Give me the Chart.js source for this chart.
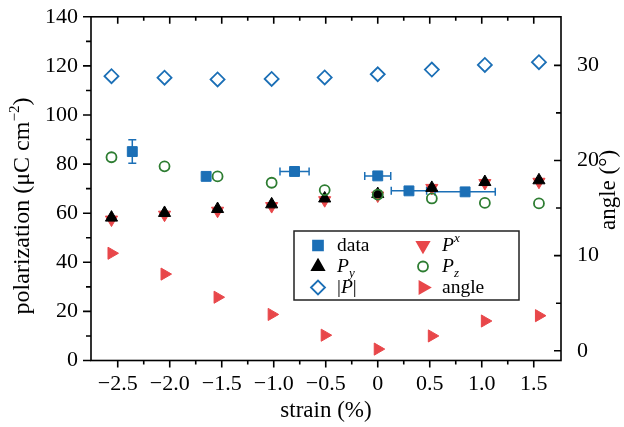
<!DOCTYPE html>
<html>
<head>
<meta charset="utf-8">
<script src="https://cdn.jsdelivr.net/npm/chart.js@4.4.0/dist/chart.umd.min.js"></script>
<style>
  body { margin: 0; background: #fff; }
  #wrap { width: 624px; height: 427px; }
</style>
</head>
<body>
<div id="wrap"><canvas id="polChart"></canvas></div>
<script>
// calculated points (strain in %)
const strains = [-2.56, -2.05, -1.54, -1.02, -0.51, 0, 0.52, 1.03, 1.55];
const pTotal = [115.8, 115.2, 114.5, 114.7, 115.3, 116.6, 118.5, 120.4, 121.5];
const pX = [57.4, 59.4, 61.0, 62.9, 65.3, 67.2, 70.3, 72.3, 72.8];
const pY = [58.2, 60.1, 61.7, 63.6, 66.0, 67.8, 70.3, 72.7, 73.4];
const pZ = [82.8, 79.1, 75.0, 72.4, 69.4, 67.6, 66.0, 64.2, 64.0];
const angle = [10.25, 8.06, 5.63, 3.82, 1.64, 0.18, 1.56, 3.13, 3.69];

// measured data with error bars
const dataStrain = [-2.36, -1.65, -0.80, 0, 0.30, 0.84];
const dataPol = [85.1, 75.0, 77.0, 75.2, 69.1, 68.7];
const dataXErr = [0, 0, 0.14, 0.125, 0.17, 0.29];
const dataYErr = [4.8, 0, 0, 0, 0, 0];

// tick values and labels
const xTickValues = [-2.5, -2.0, -1.5, -1.0, -0.5, 0, 0.5, 1.0, 1.5];
const xTickLabels = ['\u22122.5', '\u22122.0', '\u22121.5', '\u22121.0', '\u22120.5', '0', '0.5', '1.0', '1.5'];
const polTicks = [0, 20, 40, 60, 80, 100, 120, 140];
const angleTicks = [0, 10, 20, 30];

const BLUE = '#1b6fb6';
const RED = '#e8474a';
const GREEN = '#2e7d32';
const SERIF = '"Liberation Serif", "Times New Roman", serif';

function pts(xs, ys) {
    return xs.map((x, i) => ({ x: x, y: ys[i] }));
}

function fontOf(size, italic) {
    return (italic ? 'italic ' : '') + size + 'px ' + SERIF;
}

// draws a run of text pieces (for sub/superscripts)
function drawRich(ctx, parts, x, y, align) {
    let total = 0;
    parts.forEach(p => {
        ctx.font = fontOf(p.size, p.italic);
        p.w = ctx.measureText(p.t).width;
        total += p.w + (p.gap || 0);
    });
    let cx = align === 'center' ? x - total / 2 : x;
    parts.forEach(p => {
        ctx.font = fontOf(p.size, p.italic);
        ctx.fillText(p.t, cx, y + (p.dy || 0));
        cx += p.w + (p.gap || 0);
    });
}

// error bars for the measured points
const errorBars = {
    id: 'errorBars',
    beforeDatasetsDraw(chart) {
        const { ctx, scales } = chart;
        const x = scales.x, y = scales.y;
        ctx.save();
        ctx.strokeStyle = BLUE;
        ctx.lineWidth = 1.5;
        dataStrain.forEach((s, i) => {
            const px = x.getPixelForValue(s);
            const py = y.getPixelForValue(dataPol[i]);
            ctx.beginPath();
            if (dataXErr[i]) {
                const l = x.getPixelForValue(s - dataXErr[i]);
                const r = x.getPixelForValue(s + dataXErr[i]);
                ctx.moveTo(l, py); ctx.lineTo(r, py);
                ctx.moveTo(l, py - 4); ctx.lineTo(l, py + 4);
                ctx.moveTo(r, py - 4); ctx.lineTo(r, py + 4);
            }
            if (dataYErr[i]) {
                const t = y.getPixelForValue(dataPol[i] + dataYErr[i]);
                const b = y.getPixelForValue(dataPol[i] - dataYErr[i]);
                ctx.moveTo(px, t); ctx.lineTo(px, b);
                ctx.moveTo(px - 4, t); ctx.lineTo(px + 4, t);
                ctx.moveTo(px - 4, b); ctx.lineTo(px + 4, b);
            }
            ctx.stroke();
        });
        ctx.restore();
    }
};

// box frame with major and minor tick marks
const frameTicks = {
    id: 'frameTicks',
    afterDatasetsDraw(chart) {
        const { ctx, chartArea: a, scales } = chart;
        ctx.save();
        ctx.strokeStyle = '#000';
        ctx.lineWidth = 1.6;
        ctx.strokeRect(a.left, a.top, a.right - a.left, a.bottom - a.top);

        const withMinor = (vals) => {
            const step = vals[1] - vals[0];
            const out = [];
            vals.forEach(v => out.push({ v: v, major: true }, { v: v + step / 2, major: false }));
            out.push({ v: vals[0] - step / 2, major: false });
            return out;
        };

        ctx.beginPath();
        withMinor(xTickValues).forEach(t => {
            const px = scales.x.getPixelForValue(t.v);
            if (px < a.left + 2 || px > a.right - 2) return;
            const len = t.major ? 7 : 4;
            ctx.moveTo(px, a.bottom); ctx.lineTo(px, a.bottom + len);
            ctx.moveTo(px, a.top); ctx.lineTo(px, a.top + len);
        });
        withMinor(polTicks).forEach(t => {
            const py = scales.y.getPixelForValue(t.v);
            if (py < a.top - 1 || py > a.bottom + 1) return;
            const len = t.major ? 8 : 5;
            ctx.moveTo(a.left, py); ctx.lineTo(a.left - len, py);
        });
        withMinor(angleTicks).forEach(t => {
            const py = scales.yA.getPixelForValue(t.v);
            if (py < a.top + 2 || py > a.bottom - 2) return;
            const len = t.major ? 7 : 5;
            ctx.moveTo(a.right, py); ctx.lineTo(a.right - len, py);
        });
        ctx.stroke();
        ctx.restore();
    }
};

// legend box and axis titles
const extras = {
    id: 'extras',
    afterDraw(chart) {
        const ctx = chart.ctx;
        const H = Chart.helpers;
        ctx.save();
        ctx.fillStyle = '#fff';
        ctx.fillRect(294, 231, 225, 69);
        ctx.strokeStyle = '#222';
        ctx.lineWidth = 1.5;
        ctx.strokeRect(294, 231, 225, 69);

        const items = [
            { x: 318, y: 245.5, style: 'rect', rot: 0, r: 7, fill: BLUE, stroke: BLUE,
              text: [{ t: 'data', size: 19.5 }] },
            { x: 318, y: 266.5, style: 'triangle', rot: 0, r: 7, fill: '#000', stroke: '#000',
              text: [{ t: 'P', size: 19.5, italic: true }, { t: 'y', size: 13, italic: true, dy: 7 }] },
            { x: 318, y: 287.5, style: 'rectRot', rot: 0, r: 7, fill: 'rgba(0,0,0,0)', stroke: BLUE,
              text: [{ t: '|', size: 19.5 }, { t: 'P', size: 19.5, italic: true }, { t: '|', size: 19.5 }] },
            { x: 423, y: 245.5, style: 'triangle', rot: 180, r: 7, fill: RED, stroke: RED,
              text: [{ t: 'P', size: 19.5, italic: true }, { t: 'x', size: 13, italic: true, dy: -7 }] },
            { x: 423, y: 266.5, style: 'circle', rot: 0, r: 5, fill: 'rgba(0,0,0,0)', stroke: GREEN,
              text: [{ t: 'P', size: 19.5, italic: true }, { t: 'z', size: 13, italic: true, dy: 7 }] },
            { x: 423, y: 287.5, style: 'triangle', rot: 90, r: 7, fill: RED, stroke: RED,
              text: [{ t: 'angle', size: 19.5 }] }
        ];
        items.forEach(it => {
            ctx.fillStyle = it.fill;
            ctx.strokeStyle = it.stroke;
            ctx.lineWidth = 1.8;
            H.drawPoint(ctx, { pointStyle: it.style, rotation: it.rot, radius: it.r, borderWidth: 1.8 }, it.x, it.y);
            ctx.fillStyle = '#000';
            ctx.textBaseline = 'middle';
            drawRich(ctx, it.text, it.x + 19, it.y, 'left');
        });

        ctx.fillStyle = '#000';
        ctx.textBaseline = 'middle';
        drawRich(ctx, [{ t: 'strain (%)', size: 23 }], 326, 411, 'center');

        ctx.save();
        ctx.translate(23, 206);
        ctx.rotate(-Math.PI / 2);
        drawRich(ctx, [
            { t: 'polarization (\u03bcC cm', size: 24 },
            { t: '\u22122', size: 15, dy: -8 },
            { t: ')', size: 24 }
        ], 0, 0, 'center');
        ctx.restore();

        ctx.save();
        ctx.translate(609, 190);
        ctx.rotate(-Math.PI / 2);
        drawRich(ctx, [{ t: 'angle (\u00b0)', size: 23 }], 0, 0, 'center');
        ctx.restore();
        ctx.restore();
    }
};

const ctx = document.getElementById('polChart').getContext('2d');
const polChart = new Chart(ctx, {
    type: 'scatter',
    data: {
        datasets: [
            {
                label: 'angle',
                data: pts(strains, angle),
                yAxisID: 'yA',
                pointStyle: 'triangle',
                rotation: 90,
                pointRadius: 7,
                backgroundColor: RED,
                borderColor: RED,
                borderWidth: 1
            },
            {
                label: '|P|',
                data: pts(strains, pTotal),
                yAxisID: 'y',
                pointStyle: 'rectRot',
                pointRadius: 7,
                backgroundColor: 'rgba(0,0,0,0)',
                borderColor: BLUE,
                borderWidth: 1.8
            },
            {
                label: 'Pz',
                data: pts(strains, pZ),
                yAxisID: 'y',
                pointStyle: 'circle',
                pointRadius: 5,
                backgroundColor: 'rgba(0,0,0,0)',
                borderColor: GREEN,
                borderWidth: 1.8
            },
            {
                label: 'Py',
                data: pts(strains, pY),
                yAxisID: 'y',
                pointStyle: 'triangle',
                pointRadius: 7,
                backgroundColor: '#000',
                borderColor: '#000',
                borderWidth: 1
            },
            {
                label: 'Px',
                data: pts(strains, pX),
                yAxisID: 'y',
                pointStyle: 'triangle',
                rotation: 180,
                pointRadius: 7,
                backgroundColor: RED,
                borderColor: RED,
                borderWidth: 1
            },
            {
                label: 'data',
                data: pts(dataStrain, dataPol),
                yAxisID: 'y',
                pointStyle: 'rect',
                pointRadius: 7,
                backgroundColor: BLUE,
                borderColor: BLUE,
                borderWidth: 1
            }
        ]
    },
    options: {
        responsive: true,
        maintainAspectRatio: false,
        animation: false,
        layout: { padding: { top: 13.5, left: 0, right: 0, bottom: 0 } },
        plugins: {
            legend: { display: false },
            tooltip: { enabled: false }
        },
        scales: {
            x: {
                type: 'linear',
                min: -2.757,
                max: 1.762,
                afterBuildTicks: s => { s.ticks = xTickValues.map(v => ({ value: v })); },
                afterFit: s => { s.height = 66.5; },
                grid: { display: false },
                border: { display: false },
                ticks: {
                    color: '#000',
                    font: { family: SERIF, size: 22 },
                    padding: 3,
                    maxRotation: 0,
                    autoSkip: false,
                    callback: (v, i) => xTickLabels[i]
                }
            },
            y: {
                position: 'left',
                min: 0,
                max: 140,
                afterBuildTicks: s => { s.ticks = polTicks.map(v => ({ value: v })); },
                afterFit: s => { s.width = 91; },
                grid: { display: false },
                border: { display: false },
                ticks: {
                    color: '#000',
                    font: { family: SERIF, size: 22, lineHeight: 0.8 },
                    padding: 5
                }
            },
            yA: {
                position: 'right',
                min: -1.02,
                max: 35.1,
                afterBuildTicks: s => { s.ticks = angleTicks.map(v => ({ value: v })); },
                afterFit: s => { s.width = 63; },
                grid: { display: false },
                border: { display: false },
                ticks: {
                    color: '#000',
                    font: { family: SERIF, size: 22, lineHeight: 0.8 },
                    padding: 8
                }
            }
        }
    },
    plugins: [errorBars, frameTicks, extras]
});
</script>
</body>
</html>
